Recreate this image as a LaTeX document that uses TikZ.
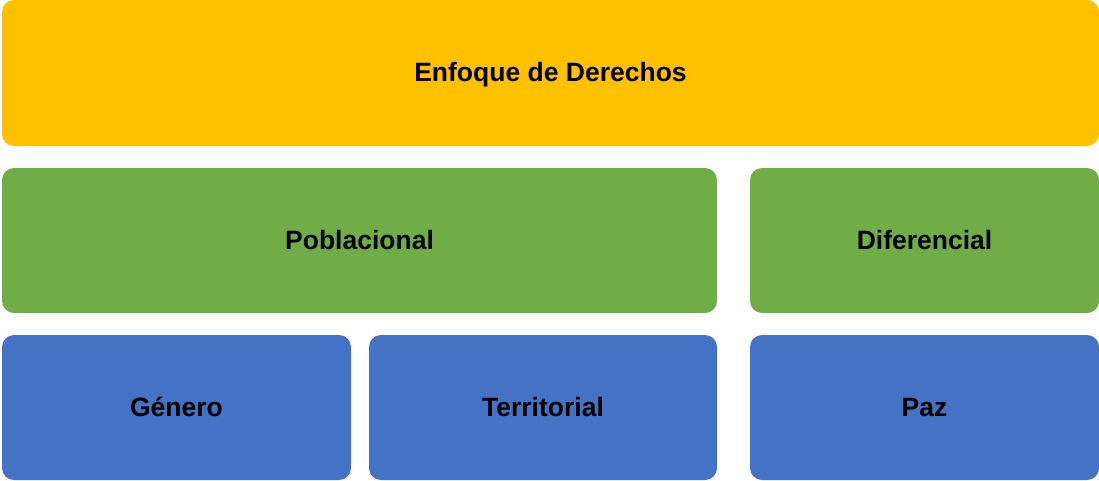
\documentclass[tikz,border=0pt]{standalone}
\usepackage{fontspec}
\setmainfont{Liberation Sans}
\definecolor{cyellow}{HTML}{FFC000}
\definecolor{cgreen}{HTML}{70AD47}
\definecolor{cblue}{HTML}{4472C4}
\begin{document}
\begin{tikzpicture}[x=1pt,y=-1pt,
  boxstyle/.style={rounded corners=12pt,draw=none},
  lbl/.style={font=\fontsize{26.5}{31}\selectfont\bfseries,text=black,anchor=base,inner sep=0pt}]
\useasboundingbox (0,0) rectangle (1099,480);
\fill[boxstyle,cyellow] (2,0) rectangle (1099,146);
\node[lbl] (der) at (550.5,81) {Enfoque de Derechos};
\fill[boxstyle,cgreen] (2,168) rectangle (717,313);
\node[lbl] (pob) at (359.5,249) {Poblacional};
\fill[boxstyle,cgreen] (750,168) rectangle (1099,313);
\node[lbl] (dif) at (924.5,249) {Diferencial};
\fill[boxstyle,cblue] (2,335) rectangle (351,480);
\node[lbl] (gen) at (176.5,416) {Género};
\fill[boxstyle,cblue] (369,335) rectangle (717,480);
\node[lbl] (ter) at (543,416) {Territorial};
\fill[boxstyle,cblue] (750,335) rectangle (1099,480);
\node[lbl] (paz) at (924.5,416) {Paz};
\end{tikzpicture}
\end{document}
